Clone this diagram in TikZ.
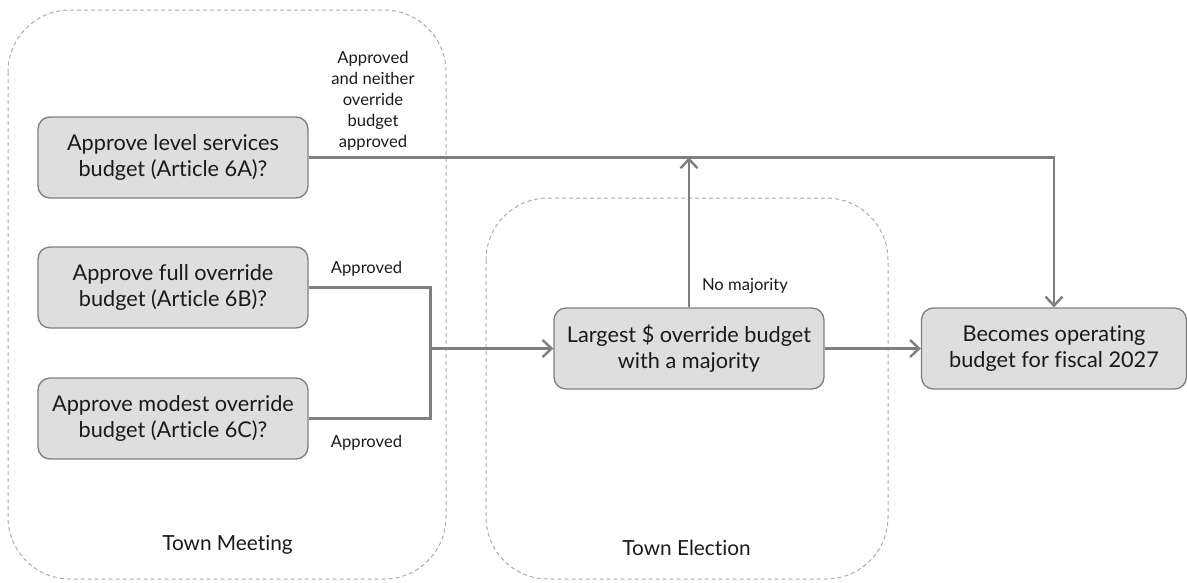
\documentclass[tikz,border=0pt]{standalone}
\usepackage{fontspec}
\setmainfont{Lato}[Ligatures=NoCommon]
\usetikzlibrary{arrows.meta}
\definecolor{lc}{HTML}{7F7F7F}
\definecolor{boxfill}{HTML}{DEDEDE}
\definecolor{txt}{HTML}{1A1A1A}
\definecolor{dashc}{HTML}{ABABAB}
\begin{document}
\begin{tikzpicture}[x=1pt,y=-1pt,
  box/.style={draw=lc, line width=1.3pt, fill=boxfill, rounded corners=12pt,
    minimum width=270pt, minimum height=81pt, align=center,
    font=\fontsize{21.7}{26}\selectfont, text=txt, inner sep=0pt},
  wire/.style={draw=lc, line width=2.4pt},
  conn/.style={wire, -{Straight Barb[length=9pt,width=17pt,line width=2.4pt]}},
  lbl/.style={font=\fontsize{16.6}{21}\selectfont, text=txt, align=center, inner sep=0pt},
  grp/.style={draw=dashc, line width=1pt, dash pattern=on 4pt off 3pt, rounded corners=62pt},
  grplbl/.style={font=\fontsize{20.8}{24}\selectfont, text=txt, inner sep=0pt}]
\useasboundingbox (0,0) rectangle (1187,582);
% containers
\draw[grp] (8,10) rectangle (446,579);
\draw[grp] (486,198) rectangle (888,579);
\node[grplbl] (tm) at (227.5,545) {Town Meeting};
\node[grplbl] (te) at (686.5,548) {Town Election};
% boxes
\node[box] (a) at (173,157.5) {Approve level services\\budget (Article 6A)?};
\node[box] (b) at (173,287.5) {Approve full override\\budget (Article 6B)?};
\node[box] (c) at (173,418.5) {Approve modest override\\budget (Article 6C)?};
\node[box] (d) at (689,348.5) {Largest \$ override budget\\with a majority};
\node[box, minimum width=265pt] (e) at (1054,348.5) {Becomes operating\\budget for fiscal 2027};
% connectors
\path (d.west) ++(-123,0) coordinate (j);
\draw[wire] (b.east) -| (j);
\draw[wire] (c.east) -| (j);
\draw[conn] (j) -- (d.west);
\draw[conn] (a.east) -| (e.north);
\draw[conn] (d.north) -- (d.north |- a.east);
\draw[conn] (d.east) -- (e.west);
% labels
\node[lbl] (l1) at (373,101) {Approved\\and neither\\override\\budget\\approved};
\node[lbl] (l2) at (366.5,269) {Approved};
\node[lbl] (l3) at (366.5,443) {Approved};
\node[lbl] (l4) at (745,286) {No majority};
\end{tikzpicture}
\end{document}
